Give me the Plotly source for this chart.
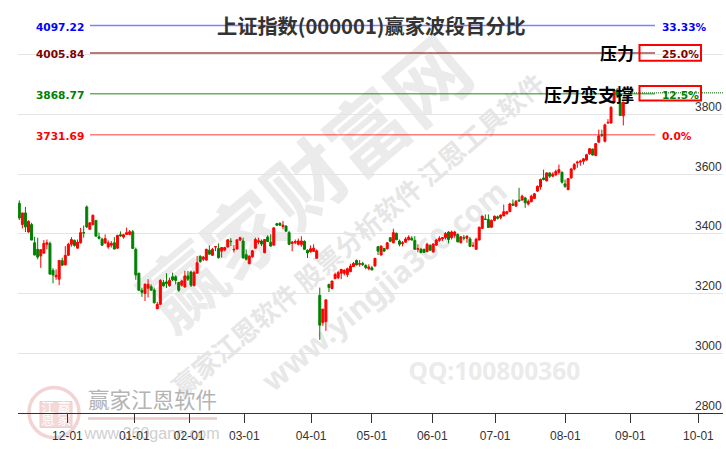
import plotly.graph_objects as go

opens = [3502,3431,3470,3406,3431,3370,3348,3326,3335,3365,
3368,3278,3256,3248,3310,3296,3328,3365,3378,3352,
3370,3404,3490,3415,3431,3445,3390,3382,3369,3356,
3362,3370,3352,3397,3389,3398,3398,3407,3348,3268,
3211,3200,3218,3223,3212,3149,3164,3237,3239,3226,
3256,3256,3237,3228,3222,3259,3272,3226,3268,3325,
3315,3312,3345,3328,3356,3351,3342,3346,3356,3375,
3346,3349,3379,3376,3330,3300,3323,3352,3372,3376,
3337,3389,3372,3362,3434,3435,3424,3426,3404,3368,
3371,3365,3364,3375,3345,3340,3341,3318,3194,3103,
3106,3231,3217,3250,3253,3268,3268,3264,3273,3290,
3311,3298,3301,3294,3283,3286,3292,3357,3329,3351,
3350,3387,3370,3402,3376,3367,3372,3380,3385,3378,
3348,3348,3348,3340,3361,3339,3362,3378,3383,3387,
3406,3387,3395,3398,3370,3387,3385,3383,3359,3348,
3379,3418,3450,3448,3422,3445,3457,3454,3460,3467,
3474,3500,3493,3513,3513,3520,3500,3507,3518,3543,
3557,3587,3577,3604,3593,3598,3606,3606,3567,3548,
3587,3617,3637,3640,3643,3647,3668,3684,3662,3707,
3732,3710,3771,3771,3840,3882,3840,3795]
highs = [3512,3470,3490,3445,3437,3390,3387,3348,3379,3381,
3374,3285,3281,3311,3320,3359,3370,3389,3381,3381,
3420,3428,3495,3437,3465,3445,3404,3387,3398,3378,
3376,3389,3395,3408,3400,3421,3413,3413,3354,3270,
3220,3234,3248,3231,3220,3172,3248,3246,3268,3253,
3270,3261,3239,3246,3276,3276,3276,3276,3326,3328,
3326,3350,3361,3353,3359,3368,3356,3356,3381,3385,
3362,3381,3390,3387,3348,3328,3346,3387,3387,3381,
3381,3395,3398,3420,3437,3439,3443,3428,3409,3376,
3381,3384,3392,3378,3348,3361,3365,3348,3220,3148,
3179,3231,3242,3270,3276,3281,3281,3287,3300,3306,
3314,3312,3306,3298,3298,3292,3318,3357,3361,3353,
3372,3389,3417,3404,3381,3376,3389,3395,3392,3392,
3365,3353,3350,3370,3365,3368,3383,3392,3389,3406,
3409,3411,3410,3401,3392,3396,3395,3389,3372,3387,
3424,3461,3465,3465,3448,3461,3461,3465,3498,3477,
3504,3515,3513,3554,3531,3524,3515,3531,3537,3562,
3585,3615,3606,3606,3606,3615,3632,3609,3582,3587,
3621,3637,3645,3648,3654,3668,3687,3685,3704,3749,
3749,3769,3784,3826,3882,3888,3871,3843]
lows = [3446,3418,3406,3404,3379,3328,3315,3286,3335,3348,
3265,3234,3246,3228,3292,3295,3326,3357,3357,3351,
3367,3387,3420,3415,3428,3392,3381,3359,3368,3350,
3354,3348,3350,3390,3384,3396,3395,3351,3246,3209,
3189,3175,3187,3211,3167,3148,3161,3223,3218,3223,
3241,3231,3206,3223,3220,3242,3222,3226,3268,3303,
3309,3311,3331,3326,3342,3317,3320,3342,3354,3359,
3337,3348,3376,3318,3311,3298,3320,3350,3365,3359,
3335,3374,3357,3362,3426,3426,3415,3407,3362,3342,
3365,3361,3357,3348,3319,3337,3340,3318,3045,3092,
3075,3205,3214,3248,3248,3248,3261,3255,3272,3290,
3294,3290,3292,3281,3278,3278,3292,3329,3328,3340,
3348,3372,3368,3379,3358,3358,3371,3378,3378,3347,
3338,3335,3336,3339,3342,3337,3361,3373,3376,3381,
3368,3381,3387,3372,3368,3378,3370,3356,3359,3348,
3379,3417,3446,3420,3421,3442,3448,3448,3459,3465,
3473,3493,3490,3509,3512,3487,3495,3506,3517,3540,
3548,3579,3576,3587,3590,3593,3598,3568,3554,3546,
3585,3613,3621,3628,3632,3645,3665,3662,3660,3704,
3724,3706,3769,3769,3838,3854,3796,3763]
closes = [3453,3470,3423,3442,3379,3329,3322,3347,3368,3370,
3265,3262,3261,3311,3295,3328,3365,3381,3361,3372,
3404,3403,3423,3437,3462,3392,3385,3362,3384,3370,
3368,3349,3395,3393,3397,3404,3407,3351,3262,3211,
3204,3231,3231,3211,3169,3164,3244,3226,3234,3244,
3246,3244,3211,3242,3259,3248,3228,3270,3303,3307,
3322,3348,3332,3348,3357,3320,3354,3354,3380,3374,
3348,3380,3387,3319,3315,3325,3343,3381,3377,3366,
3381,3374,3359,3420,3429,3429,3429,3409,3365,3372,
3374,3376,3376,3348,3336,3350,3352,3343,3094,3148,
3179,3220,3242,3264,3270,3281,3278,3283,3292,3301,
3296,3300,3297,3287,3289,3279,3318,3342,3359,3342,
3370,3375,3404,3380,3365,3370,3383,3389,3379,3348,
3350,3337,3338,3365,3345,3366,3379,3385,3387,3401,
3381,3406,3406,3373,3390,3386,3392,3358,3360,3382,
3422,3459,3448,3421,3445,3459,3452,3463,3474,3474,
3500,3496,3509,3510,3526,3504,3509,3526,3534,3559,
3582,3582,3604,3593,3600,3609,3615,3573,3559,3585,
3617,3632,3640,3643,3651,3665,3685,3664,3702,3728,
3730,3765,3773,3824,3882,3865,3796,3841]

tick_labels = ["12-01","01-01","02-01","03-01","04-01","05-01","06-01","07-01","08-01","09-01","10-01"]
tick_index = [15.7,37.5,55.4,73.4,95.2,115,134.7,155.2,178.1,199.3,221.5]
y_ticks = [2800,3000,3200,3400,3600,3800,4000]
y_tick_labels = ["2800","3000","3200","3400","3600","3800"]
level_values = [4097.22,4005.84,3868.77,3731.69]
level_percent = ["33.33%","25.0%","12.5%","0.0%"]
level_colors = ["#0000ff","#800000","#008000","#ff0000"]
level_line = ["rgba(0,0,255,.5)","rgba(128,0,0,.7)","rgba(0,128,0,.6)","rgba(255,0,0,.5)"]

L, R, B, T = 18, 723, 413.5, 10
def xp(px): return (px - L) / (R - L)
def yp(py): return (B - py) / (B - T)
def xi(px): return (px - 19.3) / 3.066

fig = go.Figure()
fig.add_trace(go.Candlestick(
    x=list(range(len(opens))), open=opens, high=highs, low=lows, close=closes,
    increasing=dict(line=dict(color="#ff0000", width=1), fillcolor="#ff0000"),
    decreasing=dict(line=dict(color="#008000", width=1), fillcolor="#008000"),
    whiskerwidth=0, showlegend=False, hoverinfo="skip"))
for v, c in zip(level_values, level_line):
    fig.add_trace(go.Scatter(x=[xi(90), xi(655)], y=[v, v], mode="lines",
                             line=dict(color=c, width=1.5), showlegend=False, hoverinfo="skip"))
fig.add_trace(go.Scatter(x=[xi(628), xi(723)], y=[3872, 3872], mode="lines",
                         line=dict(color="#006400", width=1, dash="1px,1px"), showlegend=False, hoverinfo="skip"))

shapes = []
def wm(text, cx, cy, size, color, angle=0, family="Noto Sans CJK SC", bold=False):
    t = f"<b>{text}</b>" if bold else text
    shapes.append(dict(type="rect", xref="paper", yref="paper",
                       x0=xp(cx-1), x1=xp(cx+1), y0=yp(cy+1), y1=yp(cy-1),
                       layer="below", line=dict(width=0), fillcolor="rgba(0,0,0,0)",
                       label=dict(text=t, textangle=angle, textposition="middle center",
                                  xanchor="center", yanchor="middle",
                                  font=dict(family=family, size=size, color=color))))

wm("赢家财富网", 311, 190, 80, "#ebebeb", -40, bold=True)
wm("赢家江恩软件 股票分析软件 江恩工具软件", 360, 237, 26, "#e6e6e6", -40.5, bold=True)
wm("www.yingjia360.com", 385, 287, 30, "#e8e8e8", -40, family="Noto Sans", bold=True)
wm("QQ:100800360", 494.5, 372, 24.5, "#ebebeb", 0, family="Noto Sans", bold=True)
wm("赢家江恩软件", 152.5, 402, 21.5, "#b4b4b4", 0)
wm("www.360gann.com", 152, 432, 16, "#cfcfcf", 0, family="Liberation Sans")
shapes.append(dict(type="circle", xref="paper", yref="paper", layer="below",
                   x0=xp(29), x1=xp(79), y0=yp(438), y1=yp(388),
                   line=dict(color="#f2d4d4", width=3.5), fillcolor="rgba(255,255,255,0)"))
shapes.append(dict(type="rect", xref="paper", yref="paper", layer="below",
                   x0=xp(40), x1=xp(72), y0=yp(428), y1=yp(402),
                   line=dict(color="#efcccc", width=1), fillcolor="#f3d8d8"))
wm("江", 48, 409, 13, "#ffffff", 0)
wm("赢", 64, 409, 13, "#ffffff", 0)
wm("恩", 48, 421, 13, "#ffffff", 0)
wm("家", 64, 421, 13, "#ffffff", 0)
shapes.append(dict(type="line", xref="paper", yref="paper", layer="below",
                   x0=xp(88), x1=xp(217), y0=yp(419), y1=yp(419),
                   line=dict(color="#ebcaca", width=2.5)))

# red frames
for top, bot in [(45, 60.7), (86, 100.5)]:
    shapes.append(dict(type="rect", xref="paper", yref="paper", layer="above",
                       x0=xp(639.5), x1=xp(701), y0=yp(bot), y1=yp(top),
                       line=dict(color="#ff0000", width=2), fillcolor="rgba(0,0,0,0)"))

ann = []
ann.append(dict(text="<b>上证指数(000001)赢家波段百分比</b>", xref="paper", yref="paper",
                x=xp(371.5), y=yp(26), xanchor="center", yanchor="middle", showarrow=False,
                font=dict(family="Noto Sans CJK SC", size=20.2, color="#333333")))
for v, p, c in zip(level_values, level_percent, level_colors):
    ann.append(dict(text=f"<b>{v:.2f}</b>", xref="paper", yref="y", x=xp(86), y=v, yshift=-1.5,
                    xanchor="right", yanchor="middle", showarrow=False,
                    font=dict(family="DejaVu Sans", size=10.6, color=c)))
    ann.append(dict(text=f"<b>{p}</b>", xref="paper", yref="y", x=xp(659.5), y=v, yshift=-1.5,
                    xanchor="left", yanchor="middle", showarrow=False,
                    font=dict(family="DejaVu Sans", size=10.6, color=c)))
ann.append(dict(text="<b>压力</b>", xref="paper", yref="paper", x=xp(636), y=yp(53),
                xanchor="right", yanchor="middle", showarrow=False,
                font=dict(family="Noto Sans CJK SC", size=17, color="#000000")))
ann.append(dict(text="<b>压力变支撑</b>", xref="paper", yref="paper", x=xp(636), y=yp(94),
                xanchor="right", yanchor="middle", showarrow=False,
                font=dict(family="Noto Sans CJK SC", size=18, color="#000000")))
for v, t in zip(y_ticks, y_tick_labels):
    ann.append(dict(text=t, xref="paper", yref="y", x=xp(723.5), y=v, yshift=7.5,
                    xanchor="right", yanchor="middle", showarrow=False,
                    font=dict(family="Liberation Sans", size=12, color="#333333")))

fig.update_layout(
    width=726, height=450, autosize=False,
    margin=dict(l=L, r=726-R, t=T, b=450-B, pad=0),
    paper_bgcolor="white", plot_bgcolor="rgba(0,0,0,0)",
    showlegend=False, boxgap=0.08, shapes=shapes, annotations=ann,
    xaxis=dict(range=[xi(L), xi(R)], tickmode="array", tickvals=tick_index, ticktext=tick_labels,
               showgrid=False, zeroline=False, showline=True, linecolor="#333333", linewidth=1,
               ticks="outside", ticklen=9, tickcolor="#333333", tickwidth=1, ticklabelstandoff=3,
               tickfont=dict(family="Liberation Sans", size=12, color="#333333"),
               rangeslider=dict(visible=False), fixedrange=True),
    yaxis=dict(range=[2800, 2800 + (B - T) / 0.299], tickmode="array", tickvals=y_ticks,
               showticklabels=False, showgrid=True, gridcolor="#e4e4e4", gridwidth=1,
               zeroline=False, showline=False, ticks="", fixedrange=True),
)
fig.write_html("out.html", config=dict(displayModeBar=False),
               post_script="document.body.style.margin='0';")
